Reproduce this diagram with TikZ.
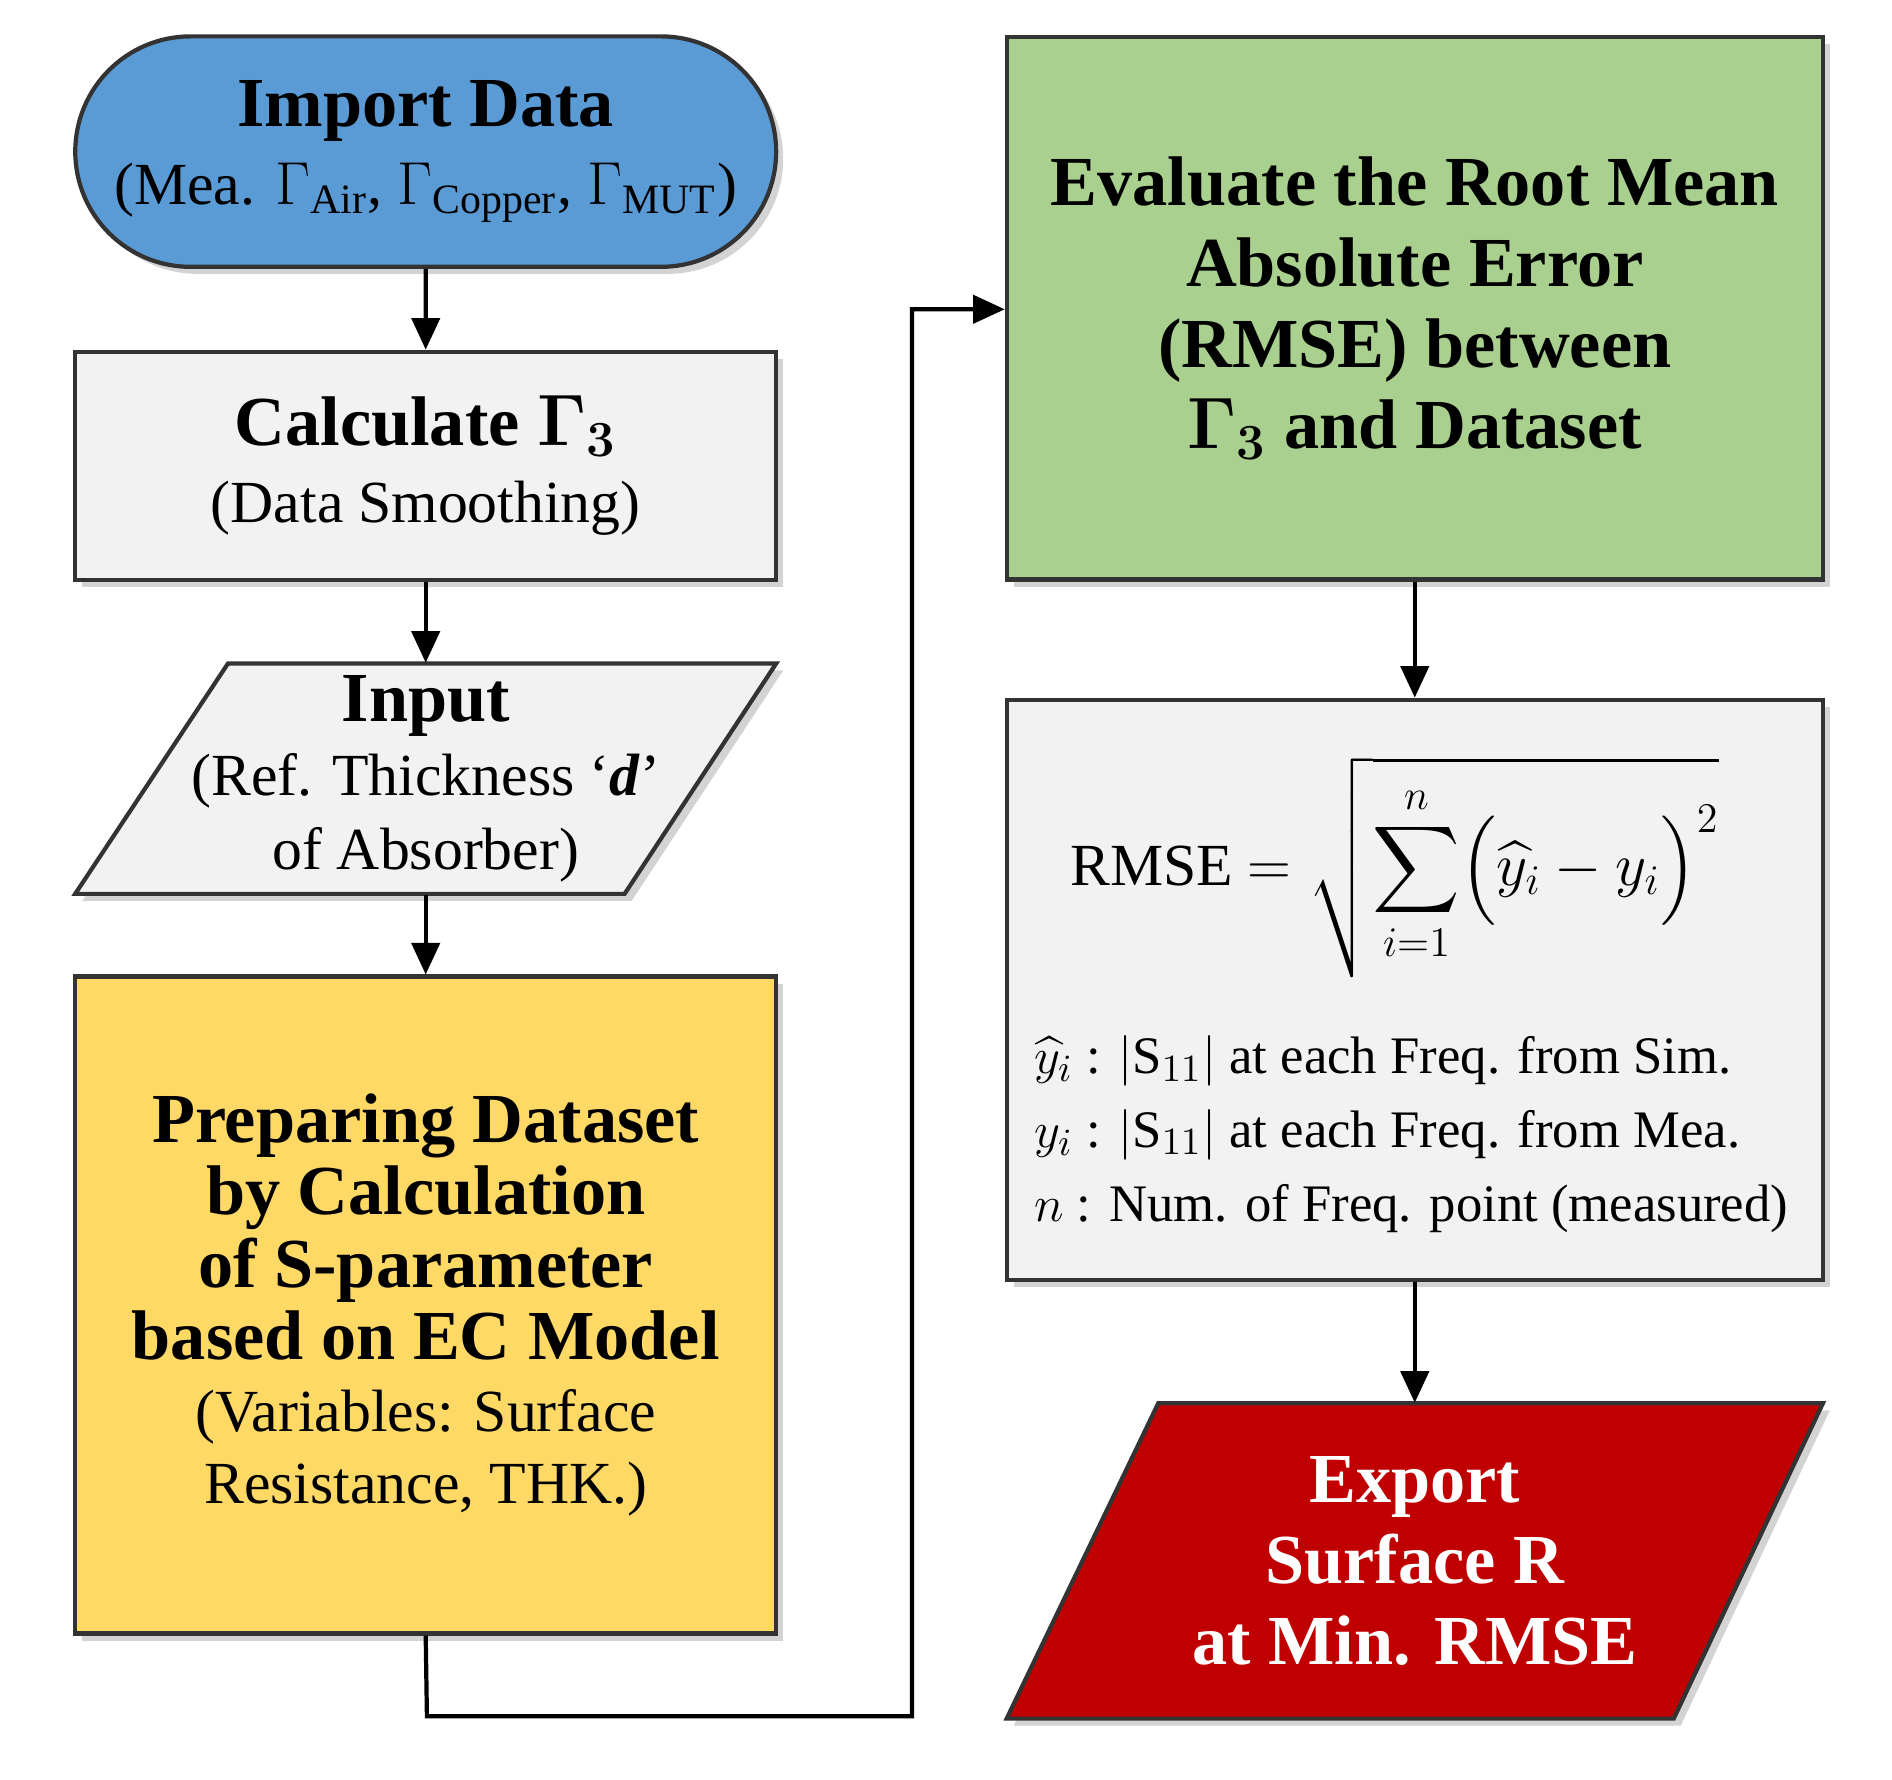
\documentclass[tikz,border=0pt]{standalone}
\usepackage{fontspec}
\usepackage{amsmath}
\setmainfont{Liberation Serif}
\usetikzlibrary{shadows,arrows.meta,shapes.misc}
\definecolor{cblue}{RGB}{91,155,213}
\definecolor{cgray}{RGB}{242,242,242}
\definecolor{cyel}{RGB}{255,217,102}
\definecolor{cgreen}{RGB}{169,208,142}
\definecolor{cred}{RGB}{192,0,0}
\newcommand\hbx[1]{{\fontsize{20}{23}\selectfont\bfseries #1}}
\begin{document}
\begin{tikzpicture}[x=0.1213mm,y=-0.1213mm,
 box/.style={draw=black!80,line width=1.2pt,align=center,inner sep=0pt,drop shadow={opacity=0.35,shadow xshift=2pt,shadow yshift=-2pt}},
 poly/.style={draw=black!80,line width=1.2pt,drop shadow={opacity=0.35,shadow xshift=2pt,shadow yshift=-2pt}},
 txt/.style={align=center,inner sep=0pt,font=\fontsize{17}{21}\selectfont},
 arr/.style={-{Triangle[length=9pt,width=8pt]},line width=1.2pt}]
\useasboundingbox (0,0) rectangle (1560,1467);
\node[box,rounded rectangle,fill=cblue,minimum width=70.1mm,minimum height=23.05mm,font=\fontsize{17}{22}\selectfont] (imp) at (351,125)
 {\hbx{Import Data}\\(Mea. $\Gamma_{\text{Air}}$, $\Gamma_{\text{Copper}}$, $\Gamma_{\text{MUT}}$)};
\node[box,fill=cgray,minimum width=70.1mm,minimum height=22.8mm,font=\fontsize{17}{22}\selectfont] (calc) at (351,384)
 {\hbx{Calculate $\boldsymbol{\Gamma_3}$}\\(Data Smoothing)};
\filldraw[poly,fill=cgray] (188,547) -- (640,547) -- (515,737) -- (62,737) -- cycle;
\node[txt,minimum width=54.8mm,minimum height=23.05mm] (inp) at (351,642)
 {\hbx{Input}\\(Ref. Thickness `\textbf{\textit{d}}'\\of Absorber)};
\node[box,fill=cyel,minimum width=70.1mm,minimum height=65.7mm,font=\fontsize{17}{20.5}\selectfont] (prep) at (351,1076)
 {\hbx{Preparing Dataset}\\\hbx{by Calculation}\\\hbx{of S-parameter}\\\hbx{based on EC Model}\\(Variables: Surface\\Resistance, THK.)};
\node[box,fill=cgreen,minimum width=81.6mm,minimum height=54.3mm,font=\fontsize{20}{23}\selectfont\bfseries] (eval) at (1166.5,254)
 {Evaluate the Root Mean\\Absolute Error\\(RMSE) between\\$\boldsymbol{\Gamma_3}$ and Dataset};
\node[box,fill=cgray,minimum width=81.6mm,minimum height=58.0mm] (rmse) at (1166.5,816) {};
\node[txt,font=\fontsize{17}{21}\selectfont] (form) at (1150,715)
 {RMSE $=\displaystyle\sqrt{\sum_{i=1}^{n}\Bigl(\widehat{y}_i-y_i\Bigr)^{2}}$};
\node[txt,align=left,anchor=west,font=\fontsize{15}{21}\selectfont] (leg) at (852,935)
 {$\widehat{y}_i$ : $|\mathrm{S}_{11}|$ at each Freq. from Sim.\\
  $y_i$ : $|\mathrm{S}_{11}|$ at each Freq. from Mea.\\
  $n$ : Num. of Freq. point (measured)};
\filldraw[poly,fill=cred] (955,1157) -- (1503,1157) -- (1380,1417) -- (830,1417) -- cycle;
\node[txt,text=white,minimum width=66.7mm,minimum height=31.5mm,font=\fontsize{20}{23}\selectfont\bfseries] (exp) at (1166.5,1287)
 {Export\\Surface R\\at Min. RMSE};
\coordinate (c1) at (352,1415);
\coordinate (c2) at (752,1415);
\coordinate (c3) at (752,255);
\draw[arr] (imp) -- (calc);
\draw[arr] (calc) -- (inp);
\draw[arr] (inp) -- (prep);
\draw[arr] (prep.south) -- (c1) -- (c2) -- (c3) -- (c3 -| eval.west);
\draw[arr] (eval) -- (rmse);
\draw[arr] (rmse) -- (exp);
\end{tikzpicture}
\end{document}
